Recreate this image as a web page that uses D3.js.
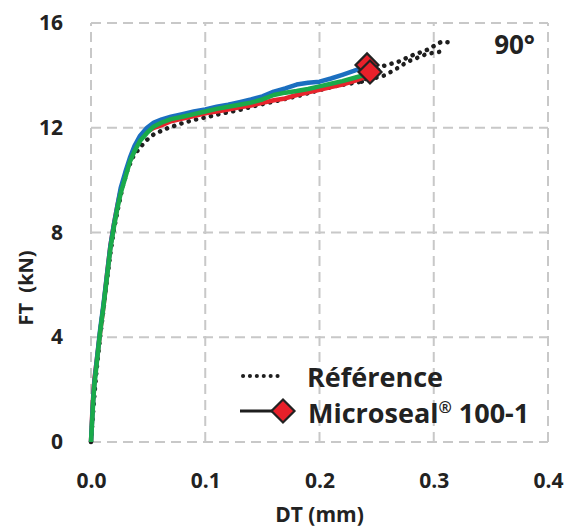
<!DOCTYPE html>
<html><head><meta charset="utf-8">
<script src="https://cdn.jsdelivr.net/npm/d3@7"></script>
<style>body{margin:0;background:#fff}svg{display:block}text{font-family:"Open Sans",sans-serif;font-weight:bold;fill:#222}</style>
</head><body><div id="c"></div>
<script>
const xTicks = [0, 0.1, 0.2, 0.3, 0.4];
const yTicks = [0, 4, 8, 12, 16];
const xTickLabels = ["0.0", "0.1", "0.2", "0.3", "0.4"];
const yTickLabels = ["0", "4", "8", "12", "16"];

const dtSample = [0, 0.001, 0.002, 0.003, 0.005, 0.008, 0.011, 0.014, 0.017, 0.020, 0.023, 0.026, 0.030, 0.034, 0.038, 0.043, 0.049, 0.055, 0.062, 0.070, 0.080, 0.090, 0.100, 0.110, 0.120, 0.130, 0.140, 0.150, 0.160, 0.170, 0.180, 0.190, 0.200, 0.210, 0.220, 0.230, 0.238];
const ftBlue = [0, 0.9, 1.7, 2.3, 3.1, 4.3, 5.3, 6.4, 7.5, 8.3, 9.0, 9.7, 10.3, 10.85, 11.3, 11.7, 12.0, 12.2, 12.32, 12.42, 12.52, 12.62, 12.7, 12.8, 12.88, 12.98, 13.08, 13.2, 13.38, 13.5, 13.65, 13.72, 13.76, 13.88, 14.02, 14.17, 14.3];
const ftRed = [0, 1.0, 1.8, 2.4, 3.1, 4.2, 5.2, 6.4, 7.5, 8.3, 9.0, 9.6, 10.2, 10.75, 11.15, 11.55, 11.85, 12.0, 12.1, 12.25, 12.35, 12.45, 12.55, 12.62, 12.7, 12.78, 12.85, 12.95, 13.05, 13.12, 13.25, 13.35, 13.45, 13.55, 13.65, 13.78, 13.9];
const ftGreen = [0, 0.8, 1.6, 2.2, 3.0, 4.2, 5.2, 6.3, 7.4, 8.2, 8.9, 9.5, 10.1, 10.7, 11.1, 11.5, 11.8, 12.05, 12.2, 12.33, 12.42, 12.52, 12.62, 12.72, 12.8, 12.88, 12.96, 13.08, 13.25, 13.34, 13.4, 13.48, 13.58, 13.68, 13.78, 13.9, 14.0];
const dtEnd = [0.2416, 0.2442];
const ftEnd = [14.40, 14.13];

const dtRef = [0, 0.001, 0.003, 0.005, 0.008, 0.011, 0.014, 0.017, 0.020, 0.024, 0.028, 0.032, 0.037, 0.042, 0.048, 0.055, 0.065, 0.078, 0.090, 0.101, 0.115, 0.130, 0.145, 0.165, 0.180, 0.200, 0.215, 0.237, 0.256, 0.269, 0.282, 0.294, 0.307, 0.316];
const ftRef = [0, 0.6, 1.8, 2.8, 4.0, 5.1, 6.2, 7.2, 8.1, 9.0, 9.8, 10.4, 10.9, 11.2, 11.5, 11.75, 11.95, 12.15, 12.3, 12.4, 12.55, 12.68, 12.85, 13.05, 13.2, 13.44, 13.6, 13.76, 14.36, 14.52, 14.78, 14.97, 15.29, 15.25];
const dtRefTail = [0.237, 0.257, 0.268, 0.277, 0.294, 0.308];
const ftRefTail = [13.76, 14.0, 14.27, 14.52, 14.82, 14.92];

const W = 576, H = 532;
const m = {l: 91, r: 28, t: 23, b: 90};
const svg = d3.select("#c").append("svg").attr("width", W).attr("height", H);
const x = d3.scaleLinear().domain([0, 0.4]).range([m.l, W - m.r]);
const y = d3.scaleLinear().domain([0, 16]).range([H - m.b, m.t]);

// grid
const g = svg.append("g");
g.selectAll(".vx").data(xTicks).join("line")
  .attr("x1", d => x(d)).attr("x2", d => x(d)).attr("y1", y(0)).attr("y2", y(16))
  .attr("stroke", "#c8c8c8").attr("stroke-width", 2).attr("stroke-dasharray", "10,6");
g.selectAll(".hy").data(yTicks).join("line")
  .attr("y1", d => y(d)).attr("y2", d => y(d)).attr("x1", x(0)).attr("x2", x(0.4))
  .attr("stroke", "#c8c8c8").attr("stroke-width", 2).attr("stroke-dasharray", "10,6");

// axes (labels only)
const xa = svg.append("g").attr("transform", `translate(0,${y(0)})`)
  .call(d3.axisBottom(x).tickValues(xTicks).tickFormat((d, i) => xTickLabels[i]).tickSize(0).tickPadding(31));
xa.select(".domain").remove();
xa.selectAll("text").attr("font-size", 21).style("font-family", "'Open Sans', sans-serif").attr("font-weight", "bold").attr("fill", "#222");
const ya = svg.append("g").attr("transform", `translate(${m.l},0)`)
  .call(d3.axisLeft(y).tickValues(yTicks).tickFormat((d, i) => yTickLabels[i]).tickSize(0).tickPadding(28));
ya.select(".domain").remove();
ya.selectAll("text").attr("font-size", 21).style("font-family", "'Open Sans', sans-serif").attr("font-weight", "bold").attr("fill", "#222");

svg.append("text").attr("x", x(0.2)).attr("y", 522).attr("text-anchor", "middle").attr("font-size", 21).text("DT (mm)");
svg.append("text").attr("transform", `translate(33,288) rotate(-90)`).attr("text-anchor", "middle").attr("font-size", 20).attr("xml:space", "preserve").text("FT  (kN)");
svg.append("text").attr("x", 535).attr("y", 54).attr("text-anchor", "end").attr("font-size", 26).text("90°");

const line = d3.line().x(d => x(d[0])).y(d => y(d[1]));

// reference dotted
[[dtRef, ftRef], [dtRefTail, ftRefTail]].forEach(([dx, fy]) => {
  svg.append("path").datum(dx.map((d, i) => [d, fy[i]]))
    .attr("d", line).attr("fill", "none").attr("stroke", "#1e1e1e").attr("stroke-width", 4.5)
    .attr("stroke-linecap", "round").attr("stroke-dasharray", "0.1,7.5");
});

const series = [
  {ft: ftRed, color: "#e8242c", end: 1},
  {ft: ftBlue, color: "#1b6fc0", end: 0},
  {ft: ftGreen, color: "#1aaa4a", end: 1}
];
series.forEach(s => {
  const pts = dtSample.map((d, i) => [d, s.ft[i]]);
  pts.push([dtEnd[s.end], ftEnd[s.end]]);
  svg.append("path").datum(pts).attr("d", line).attr("fill", "none")
    .attr("stroke", s.color).attr("stroke-width", 4.5).attr("stroke-linejoin", "round");
});

const diamond = (cx, cy, r) => `M${cx},${cy - r}L${cx + r},${cy}L${cx},${cy + r}L${cx - r},${cy}Z`;
dtEnd.forEach((d, i) => {
  svg.append("path").attr("d", diamond(x(d), y(ftEnd[i]), 11.5))
    .attr("fill", "#e8202a").attr("stroke", "#222").attr("stroke-width", 2.2);
});

// legend
svg.append("line").attr("x1", 243).attr("x2", 284).attr("y1", 376).attr("y2", 376)
  .attr("stroke", "#1e1e1e").attr("stroke-width", 4).attr("stroke-linecap", "round").attr("stroke-dasharray", "0.1,6.8");
svg.append("text").attr("x", 307).attr("y", 387).attr("font-size", 27).text("Référence");
svg.append("line").attr("x1", 240).attr("x2", 283).attr("y1", 411).attr("y2", 411)
  .attr("stroke", "#1e1e1e").attr("stroke-width", 3);
svg.append("path").attr("d", diamond(283, 411, 11.5)).attr("fill", "#e8202a").attr("stroke", "#222").attr("stroke-width", 2.2);
const t2 = svg.append("text").attr("x", 308).attr("y", 423).attr("font-size", 27);
t2.append("tspan").text("Microseal");
t2.append("tspan").attr("font-size", 16).attr("dy", -10).text("®");
t2.append("tspan").attr("dy", 10).text(" 100-1");
</script></body></html>
